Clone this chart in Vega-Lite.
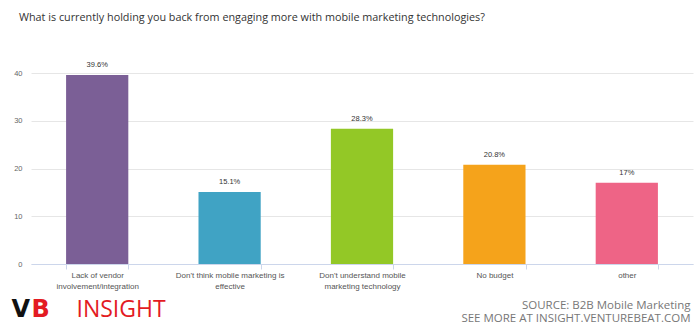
{
  "$schema": "https://vega.github.io/schema/vega-lite/v6.json",
  "width": 662,
  "height": 191,
  "autosize": {"type": "none"},
  "padding": {"left": 31, "top": 73, "right": 7, "bottom": 68},
  "background": "white",
  "title": {
    "text": "What is currently holding you back from engaging more with mobile marketing technologies?",
    "anchor": "start",
    "font": "Open Sans",
    "fontSize": 10.8,
    "fontWeight": "normal",
    "color": "#333333",
    "dx": 8,
    "offset": 38
  },
  "data": {
    "values": [
      {"reason": "Lack of vendor involvement/integration", "value": 39.6},
      {"reason": "Don't think mobile marketing is effective", "value": 15.1},
      {"reason": "Don't understand mobile marketing technology", "value": 28.3},
      {"reason": "No budget", "value": 20.8},
      {"reason": "other", "value": 17}
    ]
  },
  "transform": [{"calculate": "datum.value + '%'", "as": "label"}],
  "layer": [
    {
      "mark": {"type": "bar"},
      "encoding": {
        "x": {
          "field": "reason",
          "type": "nominal",
          "sort": null,
          "scale": {"paddingInner": 0.53, "paddingOuter": 0.265},
          "axis": {
            "orient": "bottom",
            "labelAngle": 0,
            "labelFont": "Liberation Sans",
            "labelFontSize": 8,
            "labelColor": "#555555",
            "labelLineHeight": 11,
            "labelPadding": 2,
            "labelLimit": 200,
            "labelExpr": "datum.label == 'Lack of vendor involvement/integration' ? ['Lack of vendor', 'involvement/integration'] : datum.label == \"Don't think mobile marketing is effective\" ? [\"Don't think mobile marketing is\", 'effective'] : datum.label == \"Don't understand mobile marketing technology\" ? [\"Don't understand mobile\", 'marketing technology'] : datum.label",
            "domain": true,
            "domainColor": "#ccd6eb",
            "ticks": true,
            "tickBand": "extent",
            "tickColor": "#ccd6eb",
            "tickSize": 5,
            "grid": false,
            "title": ["SOURCE: B2B Mobile Marketing", "SEE MORE AT INSIGHT.VENTUREBEAT.COM"],
            "titleFont": "Open Sans",
            "titleFontSize": 11.5,
            "titleFontWeight": "normal",
            "titleColor": "#777777",
            "titleAlign": "right",
            "titleBaseline": "top",
            "titleLineHeight": 13.5,
            "titleX": 659,
            "titleY": 35
          }
        },
        "y": {
          "field": "value",
          "type": "quantitative",
          "scale": {"domain": [0, 40], "nice": false},
          "axis": {
            "values": [0, 10, 20, 30, 40],
            "domain": false,
            "ticks": false,
            "tickSize": 0,
            "labelPadding": 9,
            "labelFont": "Liberation Sans",
            "labelFontSize": 7.5,
            "labelColor": "#666666",
            "grid": true,
            "gridColor": "#e6e6e6",
            "title": "INSIGHT",
            "titleFont": "Open Sans",
            "titleFontSize": 23,
            "titleFontWeight": "normal",
            "titleColor": "#E31B23",
            "titleAngle": 0,
            "titleAlign": "left",
            "titleBaseline": "alphabetic",
            "titleX": 45,
            "titleY": 243
          }
        },
        "color": {
          "field": "reason",
          "type": "nominal",
          "sort": null,
          "scale": {
            "domain": ["Lack of vendor involvement/integration", "Don't think mobile marketing is effective", "Don't understand mobile marketing technology", "No budget", "other"],
            "range": ["#7B5F96", "#40A3C4", "#93C826", "#F5A31B", "#EE6486"]
          },
          "legend": null
        }
      }
    },
    {
      "mark": {"type": "text", "baseline": "bottom", "dy": -6, "font": "Liberation Sans", "fontSize": 7.5, "color": "#333333"},
      "encoding": {
        "x": {
          "field": "reason",
          "type": "nominal",
          "sort": null,
          "axis": {
            "orient": "top",
            "labels": false,
            "ticks": false,
            "domain": false,
            "grid": false,
            "title": "V",
            "titleFont": "DejaVu Sans",
            "titleFontSize": 24,
            "titleFontWeight": "bold",
            "titleColor": "#111111",
            "titleAngle": 0,
            "titleAlign": "left",
            "titleBaseline": "alphabetic",
            "titleX": -20,
            "titleY": 243
          }
        },
        "y": {
          "field": "value",
          "type": "quantitative",
          "axis": {
            "orient": "right",
            "labels": false,
            "ticks": false,
            "domain": false,
            "grid": false,
            "title": "B",
            "titleFont": "DejaVu Sans",
            "titleFontSize": 24,
            "titleFontWeight": "bold",
            "titleColor": "#E31B23",
            "titleAngle": 0,
            "titleAlign": "left",
            "titleBaseline": "alphabetic",
            "titleX": -662,
            "titleY": 243
          }
        },
        "text": {"field": "label"}
      }
    }
  ],
  "resolve": {"axis": {"x": "independent", "y": "independent"}},
  "config": {"view": {"stroke": null}}
}
